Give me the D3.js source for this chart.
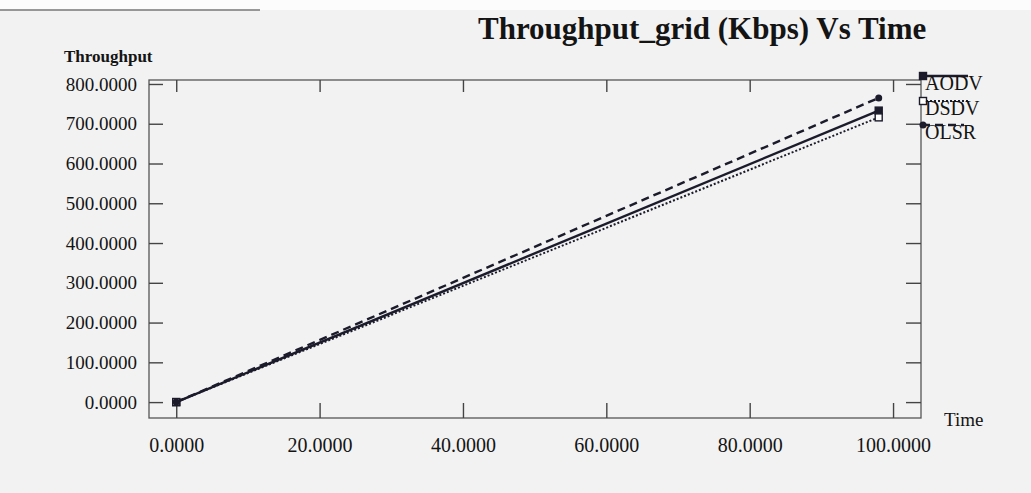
<!DOCTYPE html>
<html>
<head>
<meta charset="utf-8">
<script src="https://cdn.jsdelivr.net/npm/d3@7"></script>
<style>
  body { margin: 0; background: #f2f2f2; }
  text { font-family: "Liberation Serif", "DejaVu Serif", serif; fill: #141414; }
</style>
</head>
<body>
<script>
// chart data
const protocols = ["AODV", "DSDV", "OLSR"];
const times = [0, 98];
const aodv = [0, 733];
const dsdv = [0, 716];
const olsr = [0, 765];
const xTicks = [0, 20, 40, 60, 80, 100];
const yTicks = [0, 100, 200, 300, 400, 500, 600, 700, 800];

const width = 1031;
const height = 493;
const plotLeft = 149, plotRight = 921, plotTop = 80, plotBottom = 418;

const svg = d3.select("body")
  .append("svg")
  .attr("width", width)
  .attr("height", height);

// paper background
svg.append("rect").attr("width", width).attr("height", height).attr("fill", "#f2f2f2");
svg.append("rect").attr("width", width).attr("height", 10).attr("fill", "#fcfcfc");
svg.append("line").attr("x1", 0).attr("x2", 260).attr("y1", 10).attr("y2", 10)
  .attr("stroke", "#777").attr("stroke-width", 1.5);

const x = d3.scaleLinear().domain([-3.8, 103.9]).range([plotLeft, plotRight]);
const y = d3.scaleLinear().domain([-40, 810]).range([plotBottom, plotTop]);

// frame
svg.append("rect")
  .attr("x", plotLeft).attr("y", plotTop)
  .attr("width", plotRight - plotLeft).attr("height", plotBottom - plotTop)
  .attr("fill", "none").attr("stroke", "#555").attr("stroke-width", 1.3);

const fmt = d => d.toFixed(4);

// axes, ticks pointing inward
const bottomAxis = svg.append("g").attr("transform", `translate(0,${plotBottom})`)
  .call(d3.axisBottom(x).tickValues(xTicks).tickSize(-15).tickPadding(20).tickFormat(fmt));
const topAxis = svg.append("g").attr("transform", `translate(0,${plotTop})`)
  .call(d3.axisTop(x).tickValues(xTicks).tickSize(-12).tickFormat(""));
const leftAxis = svg.append("g").attr("transform", `translate(${plotLeft},0)`)
  .call(d3.axisLeft(y).tickValues(yTicks).tickSize(-14).tickPadding(12).tickFormat(fmt));
const rightAxis = svg.append("g").attr("transform", `translate(${plotRight},0)`)
  .call(d3.axisRight(y).tickValues(yTicks).tickSize(-15).tickFormat(""));

[bottomAxis, topAxis, leftAxis, rightAxis].forEach(g => {
  g.select(".domain").remove();
  g.selectAll(".tick line").attr("stroke", "#444").attr("stroke-width", 1.4);
});
bottomAxis.selectAll("text").attr("font-size", 20).attr("fill", "#141414")
  .style("font-family", "Liberation Serif, serif");
leftAxis.selectAll("text").attr("font-size", 19).attr("fill", "#141414")
  .style("font-family", "Liberation Serif, serif");

// series
const series = [
  { name: "AODV", values: aodv, dash: null, marker: "filled" },
  { name: "DSDV", values: dsdv, dash: "2,2", marker: "open" },
  { name: "OLSR", values: olsr, dash: "8,5", marker: "circle" }
];

const line = d3.line().x(d => x(d[0])).y(d => y(d[1]));
const ink = "#1b1b2b";

function drawMarker(g, cx, cy, type) {
  if (type === "circle") {
    g.append("circle").attr("cx", cx).attr("cy", cy).attr("r", 3.5).attr("fill", ink);
  } else {
    g.append("rect").attr("x", cx - 3.5).attr("y", cy - 3.5).attr("width", 7).attr("height", 7)
      .attr("fill", type === "filled" ? ink : "#fff").attr("stroke", ink).attr("stroke-width", 1.4);
  }
}

series.forEach(s => {
  const pts = times.map((t, i) => [t, s.values[i]]);
  svg.append("path")
    .datum(pts)
    .attr("d", line)
    .attr("fill", "none")
    .attr("stroke", ink)
    .attr("stroke-width", s.dash === "2,2" ? 2 : 2.4)
    .attr("stroke-dasharray", s.dash);
  const mg = svg.append("g");
  pts.forEach(p => drawMarker(mg, x(p[0]), y(p[1]), s.marker));
});

// legend
const legendY = [76, 101, 125];
series.forEach((s, i) => {
  const g = svg.append("g");
  g.append("line")
    .attr("x1", 922).attr("x2", i === 2 ? 964 : 968)
    .attr("y1", legendY[i]).attr("y2", legendY[i])
    .attr("stroke", ink).attr("stroke-width", s.dash === "2,2" ? 2 : 2.4)
    .attr("stroke-dasharray", s.dash);
  drawMarker(g, 923, legendY[i], s.marker);
  g.append("text").attr("x", 925).attr("y", legendY[i] + 14)
    .attr("font-size", 20).text(protocols[i]);
});

// titles
svg.append("text").attr("x", 478).attr("y", 39)
  .attr("font-size", 31).attr("font-weight", "bold")
  .text("Throughput_grid (Kbps) Vs Time");
svg.append("text").attr("x", 64).attr("y", 62)
  .attr("font-size", 17).attr("font-weight", "bold").text("Throughput");
svg.append("text").attr("x", 944).attr("y", 426)
  .attr("font-size", 19).text("Time");
</script>
</body>
</html>
